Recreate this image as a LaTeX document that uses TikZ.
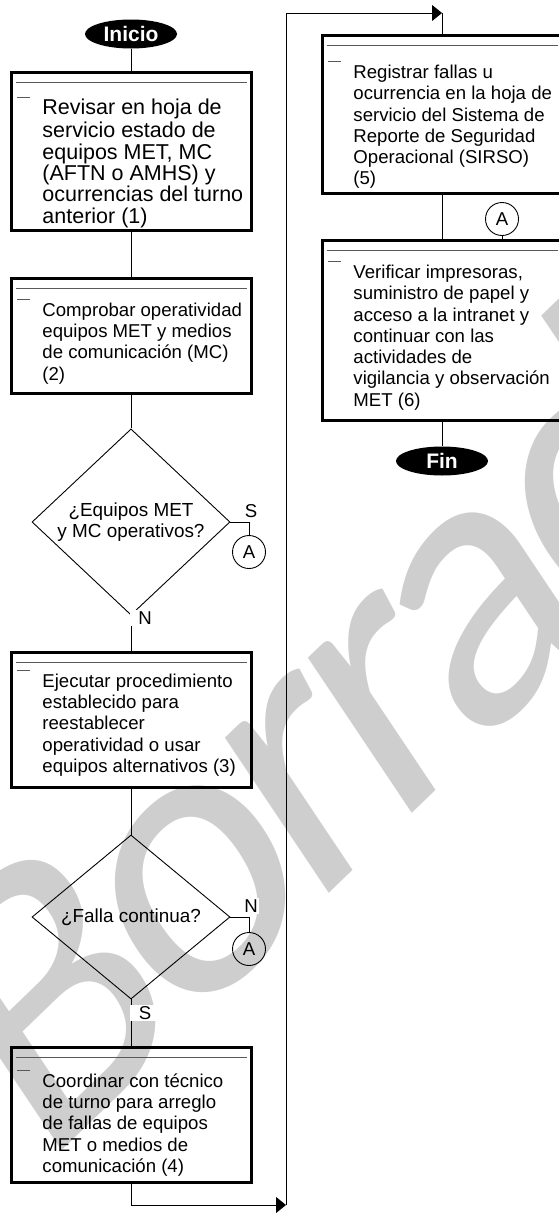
\documentclass[tikz,border=0pt]{standalone}
\usepackage{fontspec}
\setmainfont{Liberation Sans}
\newfontfamily\marcafont[LetterSpace=-5]{Carlito}
\usetikzlibrary{shapes.geometric,arrows.meta}
\definecolor{marcagris}{RGB}{206,206,206}
\tikzset{
  caja/.style={draw, line width=3pt, minimum width=240pt, inner sep=0pt},
  texto/.style={anchor=north west, align=left, inner sep=0pt, font=\fontsize{18.6}{21.3}\selectfont},
  linea/.style={draw=black!65, line width=1.2pt},
  decision/.style={draw, diamond, minimum width=198pt, minimum height=164pt, inner sep=0pt, align=center, font=\fontsize{18.9}{21.5}\selectfont},
  terminal/.style={ellipse, fill=black, text=white, font=\fontsize{21}{24}\selectfont\bfseries, minimum width=92pt, minimum height=29pt, inner sep=0pt},
  conector/.style={draw, circle, minimum size=33pt, inner sep=0pt, font=\fontsize{18.6}{21.3}\selectfont},
  etiqueta/.style={fill=white, inner sep=1.5pt, font=\fontsize{18.6}{21.3}\selectfont},
  flecha/.style={-{Triangle[length=10pt,width=16pt]}},
}
\begin{document}
\begin{tikzpicture}[x=1pt, y=-1pt, line width=0.9pt]
  \useasboundingbox (0,0) rectangle (558,1213);
  % marca de agua
  \node[text=marcagris, font=\marcafont\fontsize{385}{385}\selectfont, anchor=base west, inner sep=0pt,
    rotate=44, xslant=0.18] (marca) at (42,1170) {Borrador};

  % columna izquierda
  \node[terminal] (inicio) at (131,34) {Inicio};
  \node[caja, minimum height=158pt] (b1) at (131,151) {};
  \node[texto, font=\fontsize{21.5}{21.3}\selectfont] (t1) at (42,98.9) {\strut Revisar en hoja de\\servicio estado de\\equipos MET, MC\\(AFTN o AMHS) y\\ocurrencias del turno\\anterior (1)};
  \node[caja, minimum height=115pt] (b2) at (131,335.5) {};
  \node[texto] (t2) at (42,300.8) {\strut Comprobar operatividad\\equipos MET y medios\\de comunicación (MC)\\(2)};
  \node[decision] (d1) at (131,522) {¿Equipos MET\\y MC operativos?};
  \node[conector] (ca1) at (249,552) {A};
  \node[caja, minimum height=135pt] (b3) at (131,719.5) {};
  \node[texto] (t3) at (42,671.8) {\strut Ejecutar procedimiento\\establecido para\\reestablecer\\operatividad o usar\\equipos alternativos (3)};
  \node[decision] (d2) at (131,917) {¿Falla continua?};
  \node[conector] (ca2) at (249,949) {A};
  \node[caja, minimum height=135pt] (b4) at (131,1114.5) {};
  \node[texto] (t4) at (42,1071.8) {\strut Coordinar con técnico\\de turno para arreglo\\de fallas de equipos\\MET o medios de\\comunicación (4)};

  % columna derecha
  \node[caja, minimum height=158pt] (b5) at (442,114) {};
  \node[texto] (t5) at (353,63.1) {\strut Registrar fallas u\\ocurrencia en la hoja de\\servicio del Sistema de\\Reporte de Seguridad\\Operacional (SIRSO)\\(5)};
  \node[conector] (ca3) at (502,219) {A};
  \node[caja, minimum height=180pt] (b6) at (442,330) {};
  \node[texto] (t6) at (353,263.1) {\strut Verificar impresoras,\\suministro de papel y\\acceso a la intranet y\\continuar con las\\actividades de\\vigilancia y observación\\MET (6)};
  \node[terminal] (fin) at (442,461) {Fin};

  % lineas interiores y guiones
  \draw[linea] ([xshift=6pt,yshift=-12pt]b1.north west) -- ([xshift=-6pt,yshift=-12pt]b1.north east);
  \draw[linea] ([xshift=6pt,yshift=-12pt]b2.north west) -- ([xshift=-6pt,yshift=-12pt]b2.north east);
  \draw[linea] ([xshift=6pt,yshift=-12pt]b3.north west) -- ([xshift=-6pt,yshift=-12pt]b3.north east);
  \draw[linea] ([xshift=6pt,yshift=-12pt]b4.north west) -- ([xshift=-6pt,yshift=-12pt]b4.north east);
  \draw[linea] ([xshift=6pt,yshift=-12pt]b5.north west) -- ([xshift=-6pt,yshift=-12pt]b5.north east);
  \draw[linea] ([xshift=6pt,yshift=-12pt]b6.north west) -- ([xshift=-6pt,yshift=-12pt]b6.north east);
  \draw[linea] ([xshift=-25pt,yshift=1.2pt]t1.north west) -- ++(13,0);
  \draw[linea] ([xshift=-25pt,yshift=1.7pt]t2.north west) -- ++(13,0);
  \draw[linea] ([xshift=-25pt,yshift=1.7pt]t3.north west) -- ++(13,0);
  \draw[linea] ([xshift=-25pt,yshift=1.7pt]t4.north west) -- ++(13,0);
  \draw[linea] ([xshift=-25pt,yshift=1.7pt]t5.north west) -- ++(13,0);
  \draw[linea] ([xshift=-25pt,yshift=1.7pt]t6.north west) -- ++(13,0);

  % conexiones
  \draw (inicio) -- (b1);
  \draw (b1) -- (b2);
  \draw (b2) -- (d1);
  \draw (d1.east) -| (ca1);
  \node[etiqueta] (s1) at (251,511) {S};
  \draw (d1) -- (b3);
  \node[etiqueta, minimum width=30pt] (n1) at (145,618) {N};
  \draw (b3) -- (d2);
  \draw (d2.east) -| (ca2);
  \node[etiqueta] (n2) at (251,906) {N};
  \draw (d2) -- (b4);
  \node[etiqueta, minimum width=30pt] (s2) at (145,1013) {S};
  \coordinate (esqA) at (286,1205);
  \coordinate (esqB) at (286,13);
  \coordinate (esqC) at (442,13);
  \draw[flecha] (b4) |- (esqA);
  \draw (esqA) -- (esqB);
  \draw[flecha] (esqB) -- (esqC);
  \draw (esqC) -- (b5);
  \draw (b5) -- (b6);
  \draw (ca3) -- (ca3 |- b6.north);
  \draw (b6) -- (fin);
\end{tikzpicture}
\end{document}
